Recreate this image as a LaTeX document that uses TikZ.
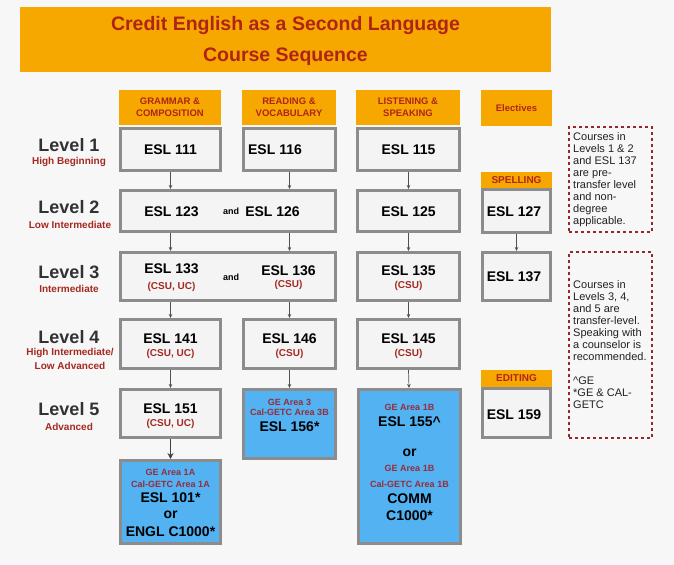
\documentclass[tikz,border=0pt]{standalone}
\usepackage{fontspec}
\setmainfont{Liberation Sans}
\usetikzlibrary{arrows.meta}
\definecolor{bg}{RGB}{247,247,247}
\definecolor{orng}{RGB}{246,168,0}
\definecolor{ttlred}{RGB}{176,36,24}
\definecolor{lblred}{RGB}{165,40,32}
\definecolor{bxgrey}{RGB}{140,140,140}
\definecolor{bxfill}{RGB}{244,244,244}
\definecolor{bblue}{RGB}{82,178,242}
\definecolor{gered}{RGB}{150,45,60}
\definecolor{dashred}{RGB}{150,40,45}
\definecolor{lvgrey}{RGB}{50,50,50}
\definecolor{arrgrey}{RGB}{80,80,80}
\newcommand\myfs[2]{\fontsize{#1bp}{#2bp}\selectfont}
\begin{document}
\begin{tikzpicture}[x=1bp,y=-1bp,
 box/.style={draw=bxgrey, line width=3bp, fill=bxfill, inner sep=0pt},
 bluebox/.style={box, fill=bblue},
 hdr/.style={fill=orng, inner sep=0pt, align=center, text=ttlred, font=\bfseries\myfs{9.5}{12}},
 course/.style={font=\bfseries\myfs{14}{16}, text=black, inner sep=0pt},
 andtxt/.style={font=\bfseries\myfs{9}{11}, text=black, inner sep=0pt},
 sub/.style={font=\bfseries\myfs{10}{12}, text=lblred, inner sep=0pt},
 ge/.style={font=\bfseries\myfs{9}{11}, text=gered, inner sep=0pt},
 lvl/.style={font=\bfseries\myfs{18}{20}, text=lvgrey, inner sep=0pt},
 lvlsub/.style={font=\bfseries\myfs{10}{11.5}, text=lblred, inner sep=0pt},
 notebox/.style={draw=dashred, dash pattern=on 3bp off 3bp, line width=2bp, inner sep=0pt},
 notetxt/.style={font=\myfs{11}{12}, text=black!87, inner sep=0pt, align=left},
 arr/.style={draw=arrgrey, line width=0.7bp, -{Stealth[length=4bp,width=3.5bp]}},
 bigarr/.style={draw=black!75, line width=1.8bp, -{Stealth[length=6bp,width=6bp]}}
]
\fill[bg] (0,0) rectangle (674,565);
\useasboundingbox (0,0) rectangle (674,565);

% title
\node[fill=orng, minimum width=531bp, minimum height=65bp, inner sep=0pt] (title) at (285.5,39.5) {};
\node[font=\bfseries\myfs{19.5}{22}, text=ttlred, inner sep=0pt] (title1) at (285.5,26) {Credit English as a Second Language};
\node[font=\bfseries\myfs{19.5}{22}, text=ttlred, inner sep=0pt] (title2) at (285.5,57) {Course Sequence};

% column headers
\node[hdr, minimum width=102bp, minimum height=35bp] (hgc) at (170,107.5) {GRAMMAR \&\\COMPOSITION};
\node[hdr, minimum width=94bp, minimum height=35bp] (hrv) at (289,107.5) {READING \&\\VOCABULARY};
\node[hdr, minimum width=104bp, minimum height=35bp] (hls) at (408,107.5) {LISTENING \&\\SPEAKING};
\node[hdr, minimum width=71bp, minimum height=36bp] (hel) at (516.5,108) {Electives};

% level labels
\node[lvl] (l1) at (69,145) {Level 1};
\node[lvlsub] (l1s) at (69,162) {High Beginning};
\node[lvl] (l2) at (69,207) {Level 2};
\node[lvlsub] (l2s) at (70,225) {Low Intermediate};
\node[lvl] (l3) at (69,272) {Level 3};
\node[lvlsub] (l3s) at (69,288.5) {Intermediate};
\node[lvl] (l4) at (69,337) {Level 4};
\node[lvlsub] (l4s) at (70,353) {High Intermediate/};
\node[lvlsub] (l4t) at (70,365.5) {Low Advanced};
\node[lvl] (l5) at (69,409) {Level 5};
\node[lvlsub] (l5s) at (69,427) {Advanced};

% row 1
\node[box, minimum width=100bp, minimum height=42bp] (b111) at (170.5,149.5) {};
\node[box, minimum width=92bp, minimum height=42bp] (b116) at (289.5,149.5) {};
\node[box, minimum width=102bp, minimum height=42bp] (b115) at (408.5,149.5) {};
\node[course] (t111) at (170.5,150) {ESL 111};
\node[course] (t116) at (275,150) {ESL 116};
\node[course] (t115) at (408.5,150) {ESL 115};

% row 2
\node[box, minimum width=215bp, minimum height=41bp] (b12x) at (228,211) {};
\node[box, minimum width=102bp, minimum height=41bp] (b125) at (408.5,211) {};
\node[fill=orng, minimum width=71bp, minimum height=16bp, inner sep=0pt, text=ttlred, font=\bfseries\myfs{10}{12}] (hsp) at (516.5,180) {SPELLING};
\node[box, minimum width=68bp, minimum height=42bp] (b127) at (516.5,211) {};
\node[course] (t123) at (171.5,212) {ESL 123};
\node[andtxt] (a2) at (231,211) {and};
\node[course] (t126) at (272.5,212) {ESL 126};
\node[course] (t125) at (408.5,212) {ESL 125};
\node[course] (t127) at (514,212) {ESL 127};

% row 3
\node[box, minimum width=215bp, minimum height=48bp] (b13x) at (228,276.5) {};
\node[box, minimum width=102bp, minimum height=48bp] (b135) at (408.5,276.5) {};
\node[box, minimum width=68bp, minimum height=48bp] (b137) at (516.5,276.5) {};
\node[course] (t133) at (171.5,269) {ESL 133};
\node[sub] (s133) at (171.5,287) {(CSU, UC)};
\node[andtxt] (a3) at (231,277) {and};
\node[course] (t136) at (288.5,271) {ESL 136};
\node[sub] (s136) at (288.5,284.5) {(CSU)};
\node[course] (t135) at (408.5,271) {ESL 135};
\node[sub] (s135) at (408.5,286) {(CSU)};
\node[course] (t137) at (514,277) {ESL 137};

% row 4
\node[box, minimum width=100bp, minimum height=49bp] (b141) at (170.5,344) {};
\node[box, minimum width=92bp, minimum height=49bp] (b146) at (289.5,344) {};
\node[box, minimum width=102bp, minimum height=49bp] (b145) at (408.5,344) {};
\node[course] (t141) at (170.5,339) {ESL 141};
\node[sub] (s141) at (170.5,353.5) {(CSU, UC)};
\node[course] (t146) at (289.5,339) {ESL 146};
\node[sub] (s146) at (289.5,353.5) {(CSU)};
\node[course] (t145) at (408.5,339) {ESL 145};
\node[sub] (s145) at (408.5,353.5) {(CSU)};

% row 5
\node[box, minimum width=100bp, minimum height=48bp] (b151) at (170.5,413.5) {};
\node[bluebox, minimum width=92bp, minimum height=69bp] (b156) at (289.5,424) {};
\node[bluebox, minimum width=102bp, minimum height=154bp] (b155) at (409,466.5) {};
\node[fill=orng, minimum width=71bp, minimum height=17bp, inner sep=0pt, text=ttlred, font=\bfseries\myfs{10}{12}] (hed) at (516.5,378.5) {EDITING};
\node[box, minimum width=68bp, minimum height=49bp] (b159) at (516.5,413) {};
\node[course] (t151) at (170.5,409) {ESL 151};
\node[sub] (s151) at (170.5,423.5) {(CSU, UC)};
\node[ge] (g156a) at (289.5,402) {GE Area 3};
\node[ge] (g156b) at (289.5,412.5) {Cal-GETC Area 3B};
\node[course] (t156) at (289.5,427) {ESL 156*};
\node[ge] (g155a) at (409.5,407) {GE Area 1B};
\node[course] (t155) at (409.5,422) {ESL 155\^{}};
\node[course] (o155) at (409.5,453) {or};
\node[ge] (g155b) at (409.5,468) {GE Area 1B};
\node[ge] (g155c) at (409.5,484) {Cal-GETC Area 1B};
\node[course] (tcomm) at (409.5,499) {COMM};
\node[course] (tc1000) at (409.5,516) {C1000*};
\node[course] (t159) at (514,415) {ESL 159};

% row 6
\node[bluebox, minimum width=100bp, minimum height=83bp] (b101) at (170.5,502) {};
\node[ge] (g101a) at (170.5,472) {GE Area 1A};
\node[ge] (g101b) at (170.5,484) {Cal-GETC Area 1A};
\node[course] (t101) at (170.5,498) {ESL 101*};
\node[course] (o101) at (170.5,515) {or};
\node[course] (tengl) at (170.5,532) {ENGL C1000*};

% notes
\node[notebox, minimum width=83bp, minimum height=105bp] (n1) at (610.5,179.5) {};
\node[notetxt, anchor=north west] (n1t) at (573,132) {Courses in\\Levels 1 \& 2\\and ESL 137\\are pre-\\transfer level\\and non-\\degree\\applicable.};
\node[notebox, minimum width=83bp, minimum height=186bp] (n2) at (610.5,345) {};
\node[notetxt, anchor=north west] (n2t) at (573,280) {Courses in\\Levels 3, 4,\\and 5 are\\transfer-level.\\Speaking with\\a counselor is\\recommended.\\[12bp]\^{}GE\\*GE \& CAL-\\GETC};

% arrows
\draw[arr] (b111.south) -- (b12x.north -| b111.south);
\draw[arr] (b116.south) -- (b12x.north -| b116.south);
\draw[arr] (b115) -- (b125);
\draw[arr] (b12x.south -| b111.south) -- (b13x.north -| b111.south);
\draw[arr] (b12x.south -| b116.south) -- (b13x.north -| b116.south);
\draw[arr] (b125) -- (b135);
\draw[arr] (b127) -- (b137);
\draw[arr] (b13x.south -| b141.north) -- (b141.north);
\draw[arr] (b13x.south -| b146.north) -- (b146.north);
\draw[arr] (b135) -- (b145);
\draw[arr] (b141) -- (b151);
\draw[arr] (b146) -- (b156);
\draw[arr] (b145.south) -- (b155.north);
\draw[bigarr] (b151) -- (b101);
\end{tikzpicture}
\end{document}
